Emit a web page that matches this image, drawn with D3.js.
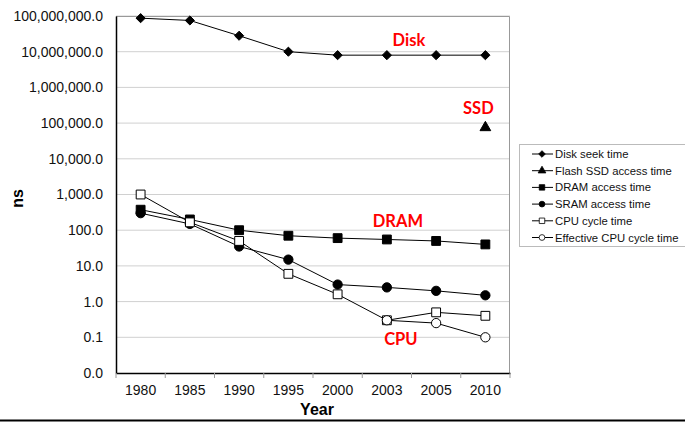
<!DOCTYPE html>
<html>
<head>
<meta charset="utf-8">
<script src="https://cdn.jsdelivr.net/npm/d3@7"></script>
<style>
  body { margin: 0; background: #fff; }
  svg { display: block; font-family: "Liberation Sans", Arial, sans-serif; }
</style>
</head>
<body>
<div id="chart"></div>
<script>
// data
const years = ["1980", "1985", "1990", "1995", "2000", "2003", "2005", "2010"];
const diskSeek = [87000000, 75000000, 28000000, 10000000, 8000000, 8000000, 8000000, 8000000];
const flashSsd = [null, null, null, null, null, null, null, 75000];
const dramAccess = [375, 200, 100, 70, 60, 55, 50, 40];
const sramAccess = [300, 150, 35, 15, 3, 2.5, 2, 1.5];
const cpuCycle = [1000, 166, 50, 6, 1.6, 0.3, 0.5, 0.4];
const effCpuCycle = [null, null, null, null, null, 0.3, 0.25, 0.1];
const yTicks = [0.01, 0.1, 1, 10, 100, 1000, 10000, 100000, 1000000, 10000000, 100000000];

const series = [
  { name: "Disk seek time", values: diskSeek, shape: "diamond", fill: "#000" },
  { name: "Flash SSD access time", values: flashSsd, shape: "triangle", fill: "#000" },
  { name: "DRAM access time", values: dramAccess, shape: "square", fill: "#000" },
  { name: "SRAM access time", values: sramAccess, shape: "circle", fill: "#000" },
  { name: "CPU cycle time", values: cpuCycle, shape: "square", fill: "#fff" },
  { name: "Effective CPU cycle time", values: effCpuCycle, shape: "circle", fill: "#fff" }
];

const labels = [
  { text: "Disk", year: "2003", value: 8000000, dx: 22, dy: -9 },
  { text: "SSD", year: "2010", value: 75000, dx: -7, dy: -14 },
  { text: "DRAM", year: "2003", value: 55, dx: 11, dy: -12 },
  { text: "CPU", year: "2003", value: 0.3, dx: 14, dy: 25 }
];

const W = 685, H = 422;
const margin = { left: 116, right: 175, top: 16, bottom: 49 };
const width = W - margin.left - margin.right;
const height = H - margin.top - margin.bottom;

const svg = d3.select("#chart").append("svg")
  .attr("width", W).attr("height", H);

const g = svg.append("g")
  .attr("transform", `translate(${margin.left},${margin.top})`);

const x = d3.scaleBand().domain(years).range([0, width]);
const y = d3.scaleLog().domain([0.01, 100000000]).range([height, 0]);
const fmt = d3.format(",.1f");

// gridlines
g.append("g").selectAll("line")
  .data(yTicks.slice(1))
  .join("line")
  .attr("x1", 0).attr("x2", width)
  .attr("y1", d => y(d)).attr("y2", d => y(d))
  .attr("stroke", "#d0d0d0").attr("stroke-width", 1);

// plot border (top/right grey)
g.append("path")
  .attr("d", `M0,0.5H${width - 0.5}V${height}`)
  .attr("fill", "none").attr("stroke", "#999").attr("stroke-width", 1);

// y axis
const yAxis = g.append("g")
  .call(d3.axisLeft(y).tickValues(yTicks).tickFormat(fmt).tickSize(0).tickPadding(13));
yAxis.select(".domain").attr("stroke", "#000").attr("stroke-width", 1.5);
yAxis.selectAll("text").attr("font-size", 14).attr("fill", "#111");

// x axis
const xAxis = g.append("g")
  .attr("transform", `translate(0,${height})`)
  .call(d3.axisBottom(x).tickSize(0).tickPadding(12));
xAxis.select(".domain").attr("stroke", "#000").attr("stroke-width", 1.5);
xAxis.selectAll("text").attr("font-size", 14).attr("fill", "#111");
// ticks between categories
xAxis.selectAll(".sep")
  .data(d3.range(years.length + 1))
  .join("line")
  .attr("class", "sep")
  .attr("x1", i => i * x.step()).attr("x2", i => i * x.step())
  .attr("y1", 0).attr("y2", 5)
  .attr("stroke", "#999");

// axis titles
svg.append("text")
  .attr("x", 317)
  .attr("y", 415)
  .attr("text-anchor", "middle")
  .attr("font-size", 16).attr("font-weight", "bold")
  .text("Year");

svg.append("text")
  .attr("transform", `translate(23,${margin.top + y(1000) + 4}) rotate(-90)`)
  .attr("text-anchor", "middle")
  .attr("font-size", 16).attr("font-weight", "bold")
  .text("ns");

// markers (diamond = square turned 45deg, like Excel)
const diamond = {
  draw(ctx, size) {
    const r = Math.sqrt(size / 2);
    ctx.moveTo(0, -r); ctx.lineTo(r, 0); ctx.lineTo(0, r); ctx.lineTo(-r, 0); ctx.closePath();
  }
};
const shapes = { diamond: diamond, triangle: d3.symbolTriangle, square: d3.symbolSquare, circle: d3.symbolCircle };
const sizes = { diamond: 42, triangle: 50, square: 78, circle: 68 };

const cx = yr => x(yr) + x.bandwidth() / 2;

const line = d3.line()
  .defined(d => d.v != null)
  .x(d => cx(d.yr))
  .y(d => y(d.v));

series.forEach(s => {
  const pts = years.map((yr, i) => ({ yr, v: s.values[i] }));
  g.append("path")
    .datum(pts)
    .attr("d", line)
    .attr("fill", "none").attr("stroke", "#000").attr("stroke-width", 1);
  g.append("g").selectAll("path")
    .data(pts.filter(d => d.v != null))
    .join("path")
    .attr("transform", d => `translate(${cx(d.yr)},${y(d.v)})`)
    .attr("d", d3.symbol(shapes[s.shape], sizes[s.shape]))
    .attr("fill", s.fill).attr("stroke", "#000").attr("stroke-width", 1);
});

// red annotation labels
g.append("g").selectAll("text")
  .data(labels)
  .join("text")
  .attr("x", d => cx(d.year) + d.dx)
  .attr("y", d => y(d.value) + d.dy)
  .attr("text-anchor", "middle")
  .attr("fill", "#ff0000")
  .attr("font-family", "Lato, 'Open Sans', sans-serif")
  .attr("font-weight", "bold").attr("font-size", 16.5)
  .text(d => d.text);

// legend
const legend = svg.append("g").attr("transform", "translate(519,144)");
legend.append("rect")
  .attr("x", 0.5).attr("y", 0.5).attr("width", 180).attr("height", 102)
  .attr("fill", "#fff").attr("stroke", "#bbb");
const li = legend.selectAll(".item")
  .data(series)
  .join("g")
  .attr("class", "item")
  .attr("transform", (d, i) => `translate(0,${10 + i * 16.7})`);
li.append("line")
  .attr("x1", 13).attr("x2", 34).attr("y1", 0).attr("y2", 0)
  .attr("stroke", "#000");
li.append("path")
  .attr("transform", "translate(23,0)")
  .attr("d", d => d3.symbol(shapes[d.shape], d.shape === "square" ? 30 : d.shape === "diamond" ? 22 : 26)())
  .attr("fill", d => d.fill).attr("stroke", "#000").attr("stroke-width", 0.8);
li.append("text")
  .attr("x", 36).attr("y", 4)
  .attr("font-size", 11.3).attr("fill", "#111")
  .text(d => d.name);

// bottom rule
svg.append("line")
  .attr("x1", 0).attr("x2", W).attr("y1", 420.5).attr("y2", 420.5)
  .attr("stroke", "#000").attr("stroke-width", 2);
</script>
</body>
</html>
